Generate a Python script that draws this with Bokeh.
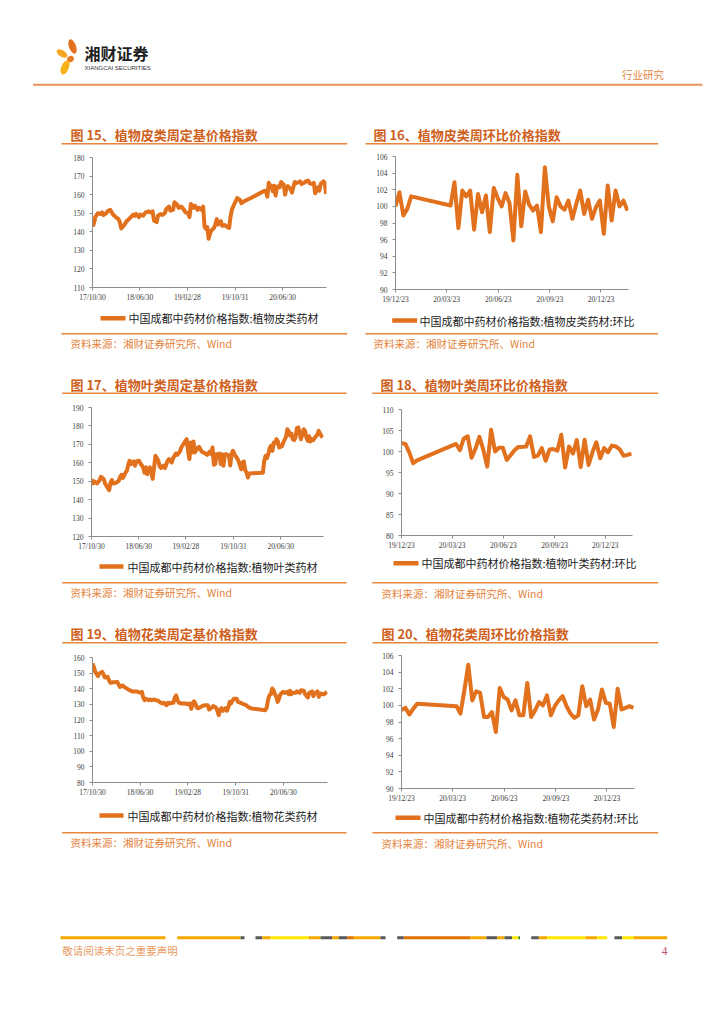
import numpy as np
from bokeh.plotting import figure
from bokeh.layouts import column, row
from bokeh.models import Range1d, FixedTicker, DatetimeTickFormatter
from bokeh.core.properties import value
from bokeh.embed import file_html
from bokeh.resources import INLINE

# ---------------- data ----------------
IDX_START = "2017-10-30"      # weekly index series start (week 0)
RATIO_START = "2019-12-23"    # weekly ratio series start (week 0)

idx_tick_dates = ["2017-10-30", "2018-06-30", "2019-02-28", "2019-10-31", "2020-06-30"]
ratio_tick_dates = ["2019-12-23", "2020-03-23", "2020-06-23", "2020-09-23", "2020-12-23"]

# Fig 15: bark-type fixed-base index
weeks15 = [0, 1, 2, 4, 6, 7, 8, 10, 11, 13, 14, 15, 17, 19, 20, 21, 23, 25, 27, 28, 30, 31, 32, 34, 35,
           37, 39, 41, 42, 44, 45, 47, 48, 50, 51, 53, 54, 56, 57, 59, 60, 62, 63, 65, 67, 68, 70, 71,
           72, 74, 75, 77, 78, 80, 81, 82, 83, 84, 85, 86, 87, 89, 90, 91, 92, 94, 95, 97, 98, 100, 101,
           102, 103, 105, 106, 108, 109, 111, 112, 114, 116, 126, 127, 128, 129, 130, 131, 132, 133,
           134, 135, 136, 137, 138, 140, 141, 142, 143, 145, 146, 148, 149, 151, 152, 153, 155, 156,
           158, 159, 161, 162, 163, 165, 166, 167, 169, 170, 171]
vals15 = [142.9, 144.3, 147.9, 150.0, 149.6, 150.4, 149.0, 150.0, 151.0, 151.8, 150.5, 149.3, 147.9,
          146.8, 145.2, 141.8, 143.4, 145.7, 147.1, 147.9, 149.3, 148.6, 149.6, 147.9, 149.3, 148.6,
          150.5, 151.0, 150.5, 151.0, 146.1, 145.2, 148.8, 149.6, 149.0, 150.0, 152.3, 153.6, 151.4,
          151.8, 155.9, 154.6, 152.9, 153.6, 151.8, 150.5, 150.0, 147.9, 155.0, 152.9, 154.1, 151.8,
          152.9, 151.8, 153.6, 142.9, 141.6, 142.5, 136.3, 139.0, 140.7, 142.1, 144.3, 146.8, 143.9,
          145.7, 143.2, 143.6, 142.9, 142.1, 147.9, 151.8, 153.6, 156.8, 158.2, 157.1, 155.4, 156.4,
          156.8, 157.5, 158.2, 162.1, 161.8, 158.9, 166.4, 163.9, 164.8, 161.8, 164.8, 159.5, 163.9,
          164.6, 163.9, 166.8, 165.4, 160.0, 163.6, 164.6, 163.0, 161.1, 166.8, 166.1, 166.8, 167.1,
          165.7, 166.4, 167.1, 167.5, 166.1, 165.7, 166.4, 160.7, 163.9, 162.1, 165.7, 167.1, 166.4,
          160.4]

# Fig 17: leaf-type fixed-base index
weeks17 = [0, 1, 2, 4, 6, 7, 9, 10, 11, 13, 14, 15, 16, 18, 20, 21, 22, 23, 25, 26, 27, 28, 29, 31,
           32, 33, 35, 36, 38, 39, 40, 41, 42, 43, 44, 45, 46, 47, 49, 50, 51, 53, 54, 56, 57, 59, 60,
           62, 63, 65, 66, 68, 69, 70, 71, 72, 73, 74, 75, 76, 78, 79, 81, 82, 84, 85, 87, 88, 89, 90,
           91, 92, 93, 94, 95, 96, 97, 98, 99, 101, 102, 103, 104, 105, 107, 108, 110, 111, 112, 113,
           114, 115, 116, 126, 127, 128, 129, 130, 131, 132, 133, 134, 135, 136, 137, 138, 140, 141,
           143, 144, 145, 146, 147, 148, 149, 150, 151, 152, 153, 154, 156, 157, 158, 159, 160, 161,
           162, 163, 164, 166, 167, 168, 169, 170]
vals17 = [151.1, 148.8, 149.9, 148.8, 150.6, 152.4, 151.1, 148.8, 147.5, 145.2, 149.3, 150.6, 148.8,
          149.1, 150.2, 152.4, 153.5, 151.7, 154.7, 155.6, 158.9, 161.1, 159.3, 160.7, 158.4, 160.7,
          161.1, 159.6, 157.5, 154.6, 157.5, 153.8, 156.5, 157.5, 154.7, 151.3, 157.5, 163.8, 161.4,
          158.4, 157.1, 158.5, 157.1, 161.1, 162.0, 160.2, 162.5, 165.0, 164.3, 166.1, 168.3, 170.5,
          171.9, 172.8, 166.5, 162.0, 171.0, 165.6, 171.6, 165.6, 167.9, 168.7, 166.1, 165.6, 165.0,
          164.3, 166.1, 164.7, 168.3, 158.9, 159.3, 164.7, 164.0, 165.0, 159.3, 164.7, 158.4, 164.3,
          164.7, 163.8, 158.5, 165.0, 166.5, 164.7, 162.5, 161.1, 156.5, 160.2, 160.7, 156.0, 154.7,
          152.0, 154.2, 154.6, 161.1, 163.8, 162.5, 164.7, 167.9, 169.2, 166.5, 171.0, 170.5, 172.8,
          171.6, 168.3, 169.0, 171.0, 174.1, 178.2, 177.0, 174.7, 175.9, 172.8, 172.3, 173.7, 178.8,
          179.2, 176.4, 172.8, 178.2, 177.3, 173.7, 171.9, 174.4, 171.6, 172.8, 172.3, 173.4, 175.2,
          177.3, 175.9, 174.6, 173.7]

# Fig 19: flower-type fixed-base index
weeks19 = [0, 1, 2, 4, 5, 7, 8, 9, 11, 12, 13, 15, 16, 18, 19, 20, 22, 23, 25, 26, 27, 29, 30, 32, 33,
           35, 36, 37, 38, 39, 41, 42, 43, 45, 46, 48, 49, 51, 52, 54, 55, 56, 58, 59, 60, 61, 62, 63,
           65, 66, 68, 69, 71, 72, 73, 74, 75, 76, 77, 78, 79, 81, 82, 84, 85, 87, 88, 90, 91, 92, 93,
           94, 95, 97, 98, 99, 100, 101, 102, 103, 105, 106, 108, 109, 110, 112, 114, 116, 126, 127,
           128, 129, 130, 131, 132, 133, 134, 135, 136, 137, 139, 140, 142, 143, 144, 145, 146, 148,
           149, 151, 152, 154, 155, 157, 158, 160, 161, 162, 164, 165, 166, 168, 169, 170, 171]
vals19 = [156.2, 154.0, 150.8, 148.1, 149.8, 150.8, 149.3, 147.2, 147.6, 145.5, 143.8, 144.2, 144.2,
          144.4, 142.9, 141.2, 142.1, 141.2, 140.2, 139.5, 139.1, 138.3, 138.3, 138.3, 138.0, 137.4,
          138.0, 134.4, 132.7, 133.6, 132.7, 133.1, 132.7, 133.1, 132.7, 132.3, 131.4, 130.6, 131.0,
          129.5, 131.0, 130.6, 131.0, 131.0, 134.4, 135.7, 132.7, 131.0, 130.6, 130.6, 130.6, 130.1,
          130.6, 127.2, 130.6, 131.9, 130.6, 128.0, 127.4, 128.0, 128.4, 129.3, 129.5, 129.5, 126.7,
          128.0, 128.9, 128.0, 125.9, 123.1, 126.7, 127.6, 125.9, 127.6, 125.9, 128.0, 131.6, 130.6,
          132.3, 133.6, 133.6, 131.6, 131.0, 130.6, 130.1, 129.5, 128.0, 127.4, 126.3, 128.0, 133.1,
          135.9, 136.5, 140.2, 139.1, 136.5, 134.8, 131.6, 133.8, 136.5, 138.0, 137.4, 138.0, 136.5,
          138.7, 136.5, 137.4, 137.4, 138.3, 137.4, 139.1, 138.7, 136.5, 134.4, 137.4, 138.3, 135.3,
          137.0, 138.3, 134.8, 137.0, 136.5, 136.5, 137.4, 138.0]

# Ratio charts share the same weekly dates (gap over Chinese New Year 2020)
weeks_ratio = [0, 1, 2, 3, 4] + list(range(14, 60))
vals16 = [100.0, 101.7, 98.9, 99.7, 101.2,
          100.1, 102.9, 97.4, 101.9, 101.2, 101.9, 97.2, 101.5, 99.3, 101.3, 96.9, 102.2, 101.0, 100.0,
          101.6, 100.4, 95.9, 103.8, 97.6, 101.8, 100.2, 99.5, 100.1, 96.9, 104.7, 100.0, 98.2, 101.1,
          100.0, 99.6, 100.7, 98.5, 100.3, 101.9, 99.1, 100.8, 98.5, 99.9, 100.7, 96.7, 102.5, 98.3,
          101.9, 100.0, 100.7, 99.5]
vals18 = [102.0, 101.8, 99.8, 97.2, 97.9,
          101.8, 100.3, 103.1, 103.6, 98.5, 100.7, 103.5, 100.4, 96.4, 105.2, 100.0, 100.9, 100.9, 98.0,
          99.1, 100.3, 101.1, 101.1, 101.2, 103.6, 98.7, 99.0, 100.8, 97.8, 100.5, 100.6, 100.2, 104.0,
          96.2, 101.2, 99.5, 102.7, 96.3, 102.8, 96.8, 99.8, 102.2, 98.4, 100.8, 99.8, 101.4, 101.2,
          100.5, 99.0, 99.2, 99.5]
vals20 = [99.45, 99.7, 98.9, 99.6, 100.2,
          99.9, 99.0, 101.8, 104.9, 100.6, 101.7, 101.5, 98.6, 98.6, 99.2, 96.8, 102.1, 101.0, 100.7,
          99.4, 100.6, 98.8, 98.8, 102.7, 98.6, 99.4, 100.4, 100.0, 101.2, 98.8, 99.9, 100.6, 101.1,
          99.9, 99.0, 98.5, 98.8, 102.3, 99.9, 100.7, 98.3, 99.5, 101.9, 100.3, 100.2, 97.4, 102.0,
          99.5, 99.7, 99.9, 99.7]

yticks15 = [110, 120, 130, 140, 150, 160, 170, 180]
yticks17 = [120, 130, 140, 150, 160, 170, 180, 190]
yticks19 = [80, 90, 100, 110, 120, 130, 140, 150, 160]
yticks16 = [90, 92, 94, 96, 98, 100, 102, 104, 106]
yticks18 = [80, 85, 90, 95, 100, 105, 110]
yticks20 = [90, 92, 94, 96, 98, 100, 102, 104, 106]

titles = {
    15: "图 15、植物皮类周定基价格指数", 16: "图 16、植物皮类周环比价格指数",
    17: "图 17、植物叶类周定基价格指数", 18: "图 18、植物叶类周环比价格指数",
    19: "图 19、植物花类周定基价格指数", 20: "图 20、植物花类周环比价格指数",
}
legends = {
    15: "中国成都中药材价格指数:植物皮类药材", 16: "中国成都中药材价格指数:植物皮类药材:环比",
    17: "中国成都中药材价格指数:植物叶类药材", 18: "中国成都中药材价格指数:植物叶类药材:环比",
    19: "中国成都中药材价格指数:植物花类药材", 20: "中国成都中药材价格指数:植物花类药材:环比",
}
SOURCE = "资料来源：湘财证券研究所、Wind"

# ---------------- styles ----------------
CJK = "Noto Sans CJK SC"
SERIF = "Liberation Serif"
LINE_C = "#E2711D"
TITLE_C = "#CF5F1C"
RULE_C = "#E8863F"
SRC_C = "#E4823A"
AXIS_C = "#8C8C8C"
TICK_TXT = "#404040"
W = 362

EPOCH = np.datetime64("1970-01-01", "ms")


def ms(d):
    return float((np.datetime64(d, "ms") - EPOCH) / np.timedelta64(1, "ms"))


def weekly_ms(start, weeks):
    d = np.datetime64(start, "ms") + np.array(weeks) * np.timedelta64(7, "D")
    return ((d - EPOCH) / np.timedelta64(1, "ms")).astype(float)


def no_align(p):
    if "frame_align" in p.properties():
        p.frame_align = False
    return p


def deco(w, h):
    p = figure(width=w, height=h, x_range=Range1d(0, w), y_range=Range1d(h, 0),
               x_axis_location=None, y_axis_location=None, toolbar_location=None,
               output_backend="svg", min_border=0, title=None)
    p.outline_line_color = None
    p.grid.grid_line_color = None
    p.background_fill_color = "white"
    p.border_fill_color = "white"
    return no_align(p)


def title_fig(n, tx, ty, rx0, rx1, ry, h=35):
    p = deco(W, h)
    p.text(x=[tx], y=[ty], text=[titles[n]], text_font=value(CJK), text_font_style="bold",
           text_font_size="13px", text_color=TITLE_C, text_baseline="middle", text_align="left")
    p.segment(x0=[rx0], y0=[ry], x1=[rx1], y1=[ry], line_color=RULE_C, line_width=1.4)
    return p


def bottom_fig(n, lx0, lx1, ly, tx, rx0, rx1, ry, sx, sy, h):
    p = deco(W, h)
    p.segment(x0=[lx0], y0=[ly], x1=[lx1], y1=[ly], line_color=LINE_C, line_width=4.5)
    p.text(x=[tx], y=[ly], text=[legends[n]], text_font=value(CJK), text_font_size="11px",
           text_color="#222222", text_baseline="middle", text_align="left")
    p.segment(x0=[rx0], y0=[ry], x1=[rx1], y1=[ry], line_color=RULE_C, line_width=1.4)
    p.text(x=[sx], y=[sy], text=[SOURCE], text_font=value(CJK), text_font_size="10.5px",
           text_color=SRC_C, text_baseline="middle", text_align="left")
    return p


FMT = "%y/%m/%d"


def chart(h, borders, x_start, x_end, y_lo, y_hi, yticks, xtick_dates, start, weeks, vals):
    l, r, t, b = borders
    p = figure(width=W, height=h, x_axis_type="datetime",
               x_range=Range1d(ms(x_start), ms(x_end)), y_range=Range1d(y_lo, y_hi),
               toolbar_location=None, output_backend="svg", title=None,
               min_border_left=l, min_border_right=r, min_border_top=t, min_border_bottom=b)
    no_align(p)
    p.outline_line_color = None
    p.grid.grid_line_color = None
    p.background_fill_color = "white"
    p.border_fill_color = "white"
    p.xaxis.ticker = FixedTicker(ticks=[ms(d) for d in xtick_dates], minor_ticks=[])
    p.xaxis.formatter = DatetimeTickFormatter(
        microseconds=FMT, milliseconds=FMT, seconds=FMT, minsec=FMT, minutes=FMT,
        hourmin=FMT, hours=FMT, days=FMT, months=FMT, years=FMT)
    p.yaxis.ticker = FixedTicker(ticks=yticks, minor_ticks=[])
    for ax in (p.xaxis[0], p.yaxis[0]):
        ax.axis_line_color = AXIS_C
        ax.axis_line_width = 1
        ax.major_tick_line_color = AXIS_C
        ax.major_tick_out = 3
        ax.major_tick_in = 0
        ax.minor_tick_line_color = None
        ax.major_label_text_font = SERIF
        ax.major_label_text_font_size = "7.5px"
        ax.major_label_text_color = TICK_TXT
    p.xaxis.major_label_standoff = 2
    p.yaxis.major_label_standoff = 5
    p.line(x=weekly_ms(start, weeks), y=vals, line_color=LINE_C, line_width=4,
           line_join="round")
    return p


# ---------------- header ----------------
hdr = deco(724, 115)
hdr.ellipse(x=[72.0, 61.5, 70.0, 64.5], y=[46.0, 53.0, 58.5, 67.0], width=[7.0, 12.0, 7.0, 7.5],
            height=[15.0, 6.5, 6.0, 15.0], angle=[0.35, -0.55, 0.6, -0.4],
            fill_color=["#E2701E", "#F6A623", "#E8791F", "#F8B31B"], line_color=None)
hdr.text(x=[84], y=[52.5], text=["湘财证券"], text_font=value(CJK), text_font_style="bold",
         text_font_size="16px", text_color="#1E1E1E", text_baseline="middle")
hdr.text(x=[84], y=[67], text=["XIANGCAI SECURITIES"], text_font=value("Liberation Sans"),
         text_font_size="6px", text_color="#333333", text_baseline="middle")
hdr.text(x=[621.5], y=[74], text=["行业研究"], text_font=value(CJK), text_font_size="10.5px",
         text_color="#E0863F", text_baseline="middle")
hdr.segment(x0=[32.5], y0=[84.3], x1=[702], y1=[84.3], line_color="#E8915A", line_width=2)

# ---------------- charts ----------------
IDX_END = "2021-02-10"
RATIO_END = "2021-02-10"

c15 = column(
    title_fig(15, 70, 19, 61, 346.7, 28.3),
    chart(158, (92, 36, 7, 21), IDX_START, IDX_END, 110, 180, yticks15, idx_tick_dates,
          IDX_START, weeks15, vals15),
    bottom_fig(15, 100, 125, 9.7, 128, 61, 346.7, 25.3, 70, 34.7, 57))
c16 = column(
    title_fig(16, 11, 19, 3, 295.7, 28.3),
    chart(158, (33, 96, 6, 19), RATIO_START, RATIO_END, 90, 106, yticks16, ratio_tick_dates,
          RATIO_START, weeks_ratio, vals16),
    bottom_fig(16, 29.7, 54.7, 12, 57, 3, 295.7, 25.3, 11, 34.7, 57))
c17 = column(
    title_fig(17, 70, 19, 61.7, 346, 27.7),
    chart(155, (91, 39, 7, 19), IDX_START, "2021-02-05", 120, 190, yticks17, idx_tick_dates,
          IDX_START, weeks17, vals17),
    bottom_fig(17, 99, 123, 11, 127, 61.7, 346, 27.3, 70, 36.7, 60))
c18 = column(
    title_fig(18, 18, 19, 9.7, 295.7, 27.7),
    chart(155, (39, 92, 9, 20), RATIO_START, RATIO_END, 80, 110, yticks18, ratio_tick_dates,
          RATIO_START, weeks_ratio, vals18),
    bottom_fig(18, 31, 56, 7.7, 59, 9.7, 295.7, 27.3, 19, 37.7, 60))
c19 = column(
    title_fig(19, 70, 18.3, 61.7, 346, 27.3),
    chart(155, (92, 35, 7, 23), IDX_START, IDX_END, 80, 160, yticks19, idx_tick_dates,
          IDX_START, weeks19, vals19),
    bottom_fig(19, 99, 123, 10, 127, 61.7, 346, 27.3, 70, 36.7, 60))
c20 = column(
    title_fig(20, 19, 18.3, 10, 295.7, 27.3),
    chart(155, (39, 90, 5, 17), RATIO_START, RATIO_END, 90, 106, yticks20, ratio_tick_dates,
          RATIO_START, weeks_ratio, vals20),
    bottom_fig(20, 33, 58, 12.3, 61, 10, 295.7, 27.3, 19, 37.7, 60))

# ---------------- footer ----------------
footer_segments = [
    (60, 165, "#F5A800"), (176.7, 240, "#F5A800"), (240, 244, "#595959"),
    (255, 261.7, "#595959"), (261.7, 270, "#F5A800"), (270, 308.3, "#FFE800"), (308.3, 320, "#F5A800"),
    (320, 331.7, "#595959"), (331.7, 338.3, "#F5A800"), (338.3, 346.7, "#595959"),
    (346.7, 353.3, "#E07000"), (353.3, 380, "#F5A800"), (380, 385, "#595959"),
    (396.7, 403.3, "#595959"), (403.3, 470, "#E07000"), (470, 486, "#F5A800"), (486, 496.7, "#595959"),
    (496.7, 504, "#F5A800"), (504, 511.7, "#595959"), (511.7, 518, "#FFE800"), (518, 519.5, "#2E7D32"),
    (530.7, 538.3, "#595959"), (538.3, 546.7, "#F5A800"), (546.7, 585, "#FFE800"),
    (585, 596.7, "#F5A800"), (596.7, 606.7, "#FFE800"),
    (614, 621.7, "#595959"), (621.7, 633.3, "#FFE800"), (633.3, 666.7, "#F5A800"),
]
ftr = deco(724, 155)
ftr.segment(x0=[s[0] for s in footer_segments], y0=[72.3] * len(footer_segments),
            x1=[s[1] for s in footer_segments], y1=[72.3] * len(footer_segments),
            line_color=[s[2] for s in footer_segments], line_width=3)
ftr.text(x=[61.7], y=[84.5], text=["敬请阅读末页之重要声明"], text_font=value(CJK),
         text_font_size="10.5px", text_color="#E89A62", text_baseline="middle")
ftr.text(x=[661], y=[85], text=["4"], text_font=value(SERIF), text_font_size="12px",
         text_color="#C4506A", text_baseline="middle")

page = column(hdr, row(c15, c16), row(c17, c18), row(c19, c20), ftr)

open("out.html", "w").write(file_html(page, INLINE))
